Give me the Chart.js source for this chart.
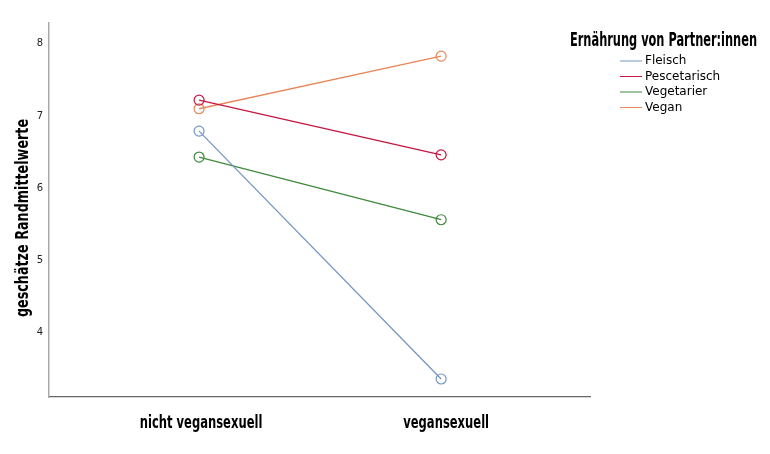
<!DOCTYPE html>
<html>
<head>
<meta charset="utf-8">
<script src="https://cdn.jsdelivr.net/npm/chart.js@4/dist/chart.umd.min.js"></script>
<style>
  html, body { margin: 0; padding: 0; background: #fff; }
  #wrap { width: 770px; height: 454px; }
</style>
</head>
<body>
<div id="wrap"><canvas id="chart"></canvas></div>
<script>
// Categories on the x axis
const categories = ['nicht vegansexuell', 'vegansexuell'];

// Estimated marginal means per partner diet
const seriesNames = ['Fleisch', 'Pescetarisch', 'Vegetarier', 'Vegan'];
const fleisch = [6.79, 3.35];
const pescetarisch = [7.22, 6.46];
const vegetarier = [6.43, 5.56];
const vegan = [7.10, 7.83];

const yTicks = [4, 5, 6, 7, 8];
const legendTitle = 'Ernährung von Partner:innen';
const yTitle = 'geschätze Randmittelwerte';

const colors = ['#7496c4', '#c4163f', '#3f8a3c', '#e8875a'];
const values = [fleisch, pescetarisch, vegetarier, vegan];

const boldFont = 'bold 17px "DejaVu Sans", sans-serif';

const datasets = seriesNames.map((name, i) => ({
    label: name,
    data: values[i].map((v, j) => ({ x: j, y: v })),
    borderColor: colors[i],
    backgroundColor: 'rgba(0,0,0,0)',
    borderWidth: 1.3,
    pointRadius: 5,
    pointBorderWidth: 1.2,
    pointBackgroundColor: 'rgba(0,0,0,0)',
    pointBorderColor: colors[i],
    tension: 0
}));

// no condensed font installed, so squeeze the bold labels horizontally
function narrowText(ctx, text, x, y, sx) {
    ctx.save();
    ctx.translate(x, y);
    ctx.scale(sx, 1);
    ctx.fillText(text, 0, 0);
    ctx.restore();
}

// Legend, category labels and y title drawn around the plot
const labelsPlugin = {
    id: 'labelsPlugin',
    afterDraw(chart) {
        const ctx = chart.ctx;
        const xScale = chart.scales.x;
        ctx.save();
        ctx.fillStyle = '#000';
        ctx.textBaseline = 'alphabetic';

        // legend title, squeezed to about 187px wide
        ctx.textAlign = 'left';
        ctx.font = 'bold 19px "DejaVu Sans", sans-serif';
        narrowText(ctx, legendTitle, 570, 46, 187 / ctx.measureText(legendTitle).width);

        // legend items
        ctx.textBaseline = 'middle';
        ctx.font = '12px "DejaVu Sans", sans-serif';
        chart.data.datasets.forEach((ds, i) => {
            const y = 61 + i * 15.5;
            ctx.strokeStyle = ds.borderColor;
            ctx.lineWidth = 1;
            ctx.beginPath();
            ctx.moveTo(620, y);
            ctx.lineTo(642, y);
            ctx.stroke();
            ctx.fillText(ds.label, 645, y);
        });

        // category labels under the x axis
        ctx.textBaseline = 'alphabetic';
        ctx.textAlign = 'center';
        ctx.font = boldFont;
        categories.forEach((c, i) => {
            narrowText(ctx, c, xScale.getPixelForValue(i) + 2 + i * 3, 428, 0.68);
        });

        // y axis title
        ctx.translate(28, 218);
        ctx.rotate(-Math.PI / 2);
        ctx.scale(0.75, 1);
        ctx.fillText(yTitle, 0, 0);
        ctx.restore();
    }
};

new Chart(document.getElementById('chart'), {
    type: 'line',
    data: { datasets: datasets },
    plugins: [labelsPlugin],
    options: {
        responsive: true,
        maintainAspectRatio: false,
        animation: false,
        layout: { padding: { top: 23, right: 180, left: 0, bottom: 0 } },
        plugins: {
            legend: { display: false },
            tooltip: { enabled: false }
        },
        scales: {
            x: {
                type: 'linear',
                min: -0.62,
                max: 1.615,
                afterBuildTicks: scale => { scale.ticks = categories.map((c, i) => ({ value: i })); },
                afterFit: scale => { scale.height = 57; },
                grid: { display: false, drawTicks: false },
                border: { display: true, color: '#666', width: 1.2 },
                ticks: { display: false }
            },
            y: {
                min: 3.1,
                max: 8.29,
                afterBuildTicks: scale => { scale.ticks = yTicks.map(v => ({ value: v })); },
                afterFit: scale => { scale.width = 49; },
                grid: { display: false, drawTicks: false },
                border: { display: true, color: '#aaa', width: 1.5 },
                ticks: {
                    color: '#222',
                    padding: 6,
                    font: { family: '"DejaVu Sans", sans-serif', size: 10 }
                }
            }
        }
    }
});
</script>
</body>
</html>
